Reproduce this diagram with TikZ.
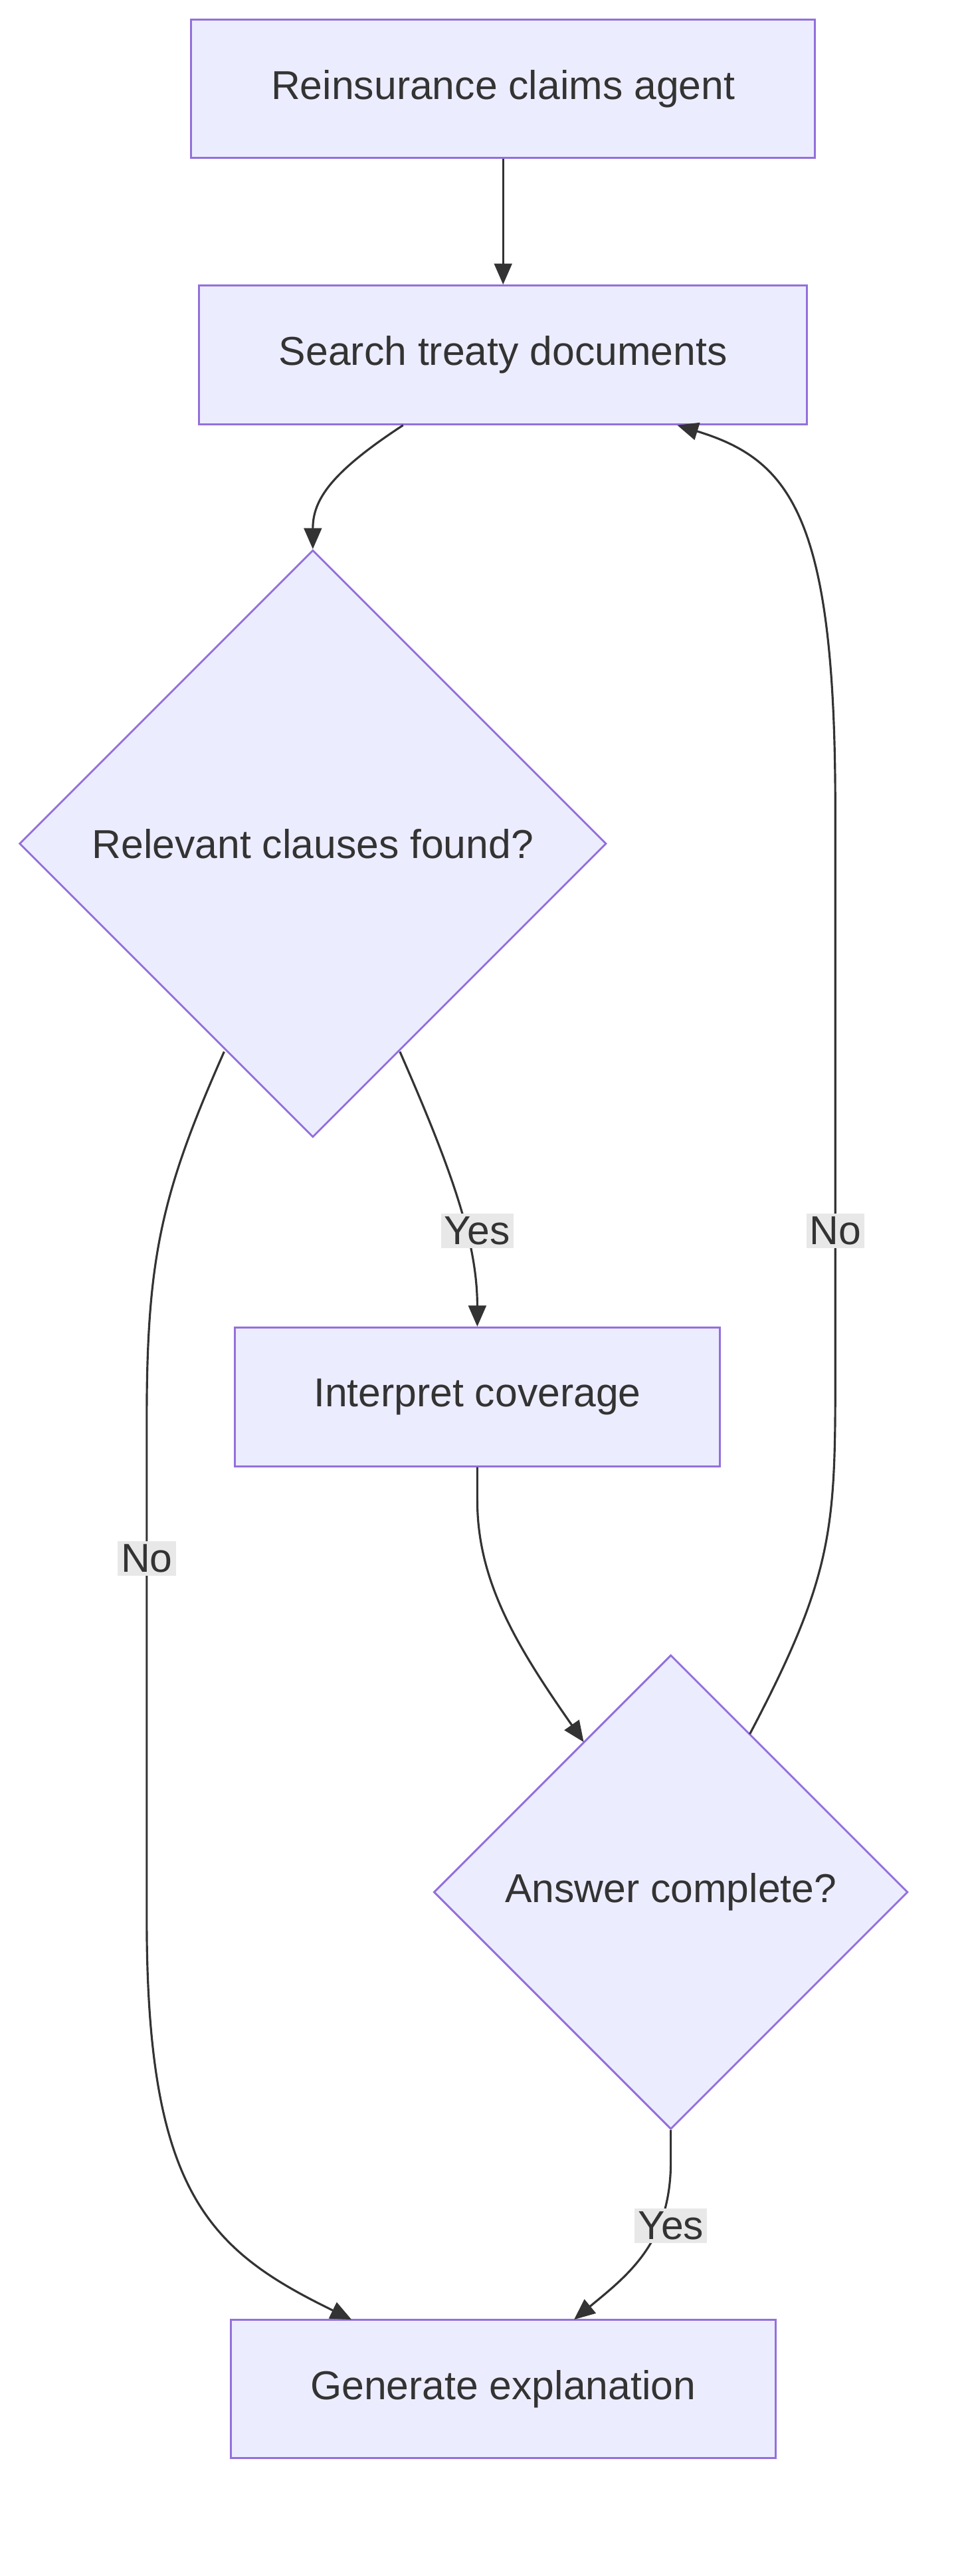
\documentclass[tikz,border=0pt]{standalone}
\usepackage{fontspec}
\setmainfont{Liberation Sans}
\usetikzlibrary{shapes.geometric,arrows.meta}
\definecolor{nfill}{HTML}{ECECFF}
\definecolor{nstroke}{HTML}{9370DB}
\definecolor{ink}{HTML}{333333}
\definecolor{lbl}{HTML}{E8E8E8}
\begin{document}
\begin{tikzpicture}[x=1pt,y=-1pt,
  box/.style={draw=nstroke,fill=nfill,line width=1.2pt,minimum height=86pt,text=ink,font=\fontsize{25}{30}\selectfont},
  dia/.style={draw=nstroke,fill=nfill,line width=1.2pt,diamond,shape aspect=1,inner sep=0pt,text=ink,font=\fontsize{25}{30}\selectfont},
  edge/.style={draw=ink,line width=1.3pt,-{Triangle[length=13pt,width=11pt]}},
  lab/.style={fill=lbl,text=ink,inner sep=2pt,font=\fontsize{25}{30}\selectfont}]
\useasboundingbox (0,0) rectangle (600,1597);
\node[box,minimum width=387pt] (a) at (312,55) {Reinsurance claims agent};
\node[box,minimum width=377pt] (b) at (312,220) {Search treaty documents};
\node[dia,minimum width=364pt,minimum height=364pt] (c) at (194,523) {Relevant clauses found?};
\node[box,minimum width=301pt] (d) at (296,866) {Interpret coverage};
\node[dia,minimum width=294pt,minimum height=294pt] (e) at (416,1173) {Answer complete?};
\node[box,minimum width=338pt] (f) at (312,1481) {Generate explanation};
\coordinate (b1) at (250,263.6);
\coordinate (b2) at (420,263.6);
\coordinate (c1) at (248,652);
\coordinate (c2) at (139,652);
\coordinate (e1) at (465,1075);
\coordinate (e2) at (362,1080);
\coordinate (f1) at (218,1438);
\coordinate (f2) at (356,1438);
\draw[edge] (a) -- (b);
\draw[edge] (b1) .. controls (205,293) and (194,310) .. (c.north);
\draw[edge] (c1) .. controls (280,725) and (296,770) .. (d.north);
\node[lab] at (296,763) {Yes};
\draw[edge] (c2) .. controls (100,740) and (91,780) .. (91,880) -- (91,1190) .. controls (91,1360) and (130,1395) .. (f1);
\node[lab] at (91,966) {No};
\draw[edge] (d.south) -- (296,930) .. controls (296,980) and (320,1020) .. (e2);
\draw[edge] (e1) .. controls (515,980) and (518,950) .. (518,860) -- (518,500) .. controls (518,320) and (490,285) .. (b2);
\node[lab] at (518,763) {No};
\draw[edge] (e.south) -- (416,1340) .. controls (416,1390) and (390,1410) .. (f2);
\node[lab] at (416,1380) {Yes};
\end{tikzpicture}
\end{document}
